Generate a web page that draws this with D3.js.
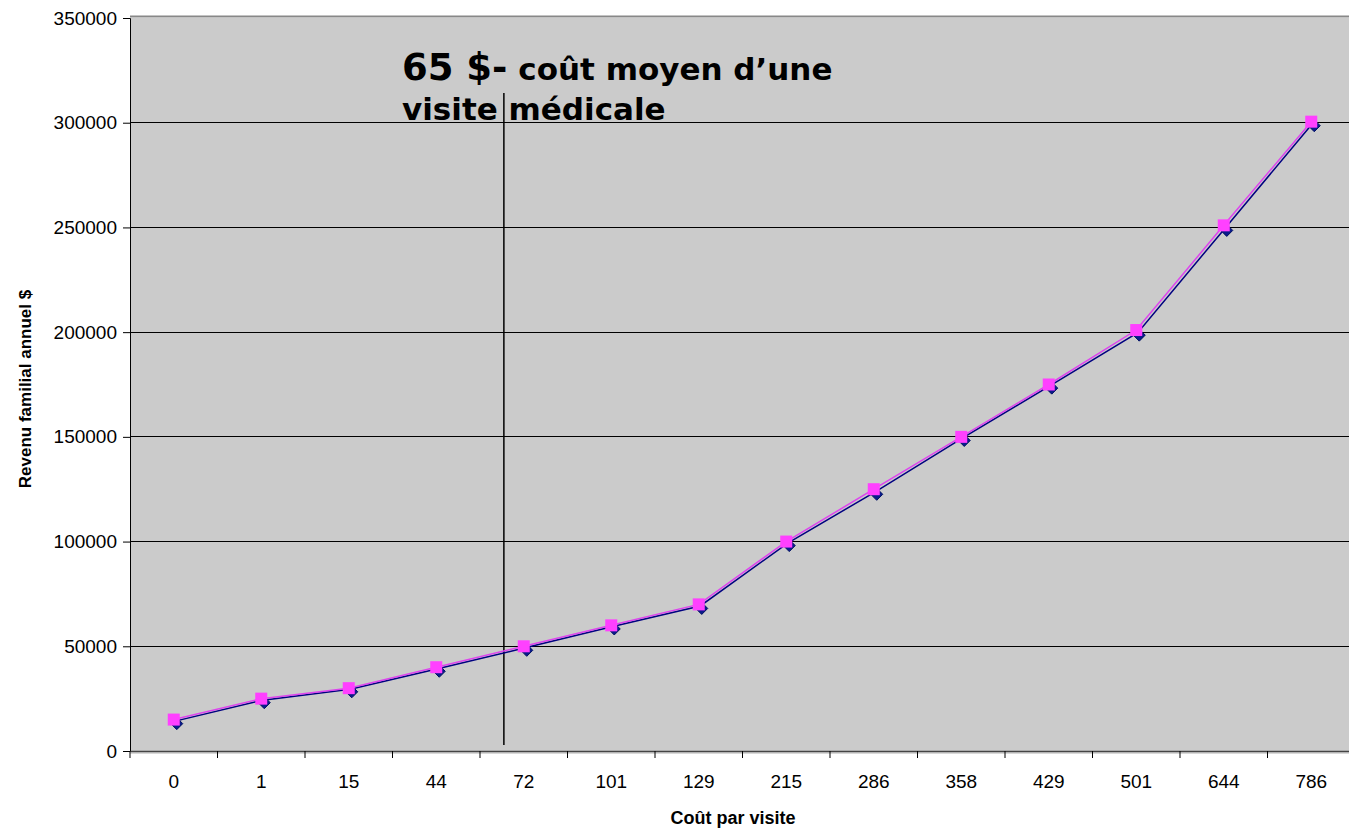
<!DOCTYPE html>
<html><head><meta charset="utf-8">
<script src="https://cdn.jsdelivr.net/npm/d3@7"></script>
<style>html,body{margin:0;padding:0;background:#fff;overflow:hidden}</style>
</head><body>
<svg id="c" width="1349" height="830"></svg>
<script>
const categories = ["0","1","15","44","72","101","129","215","286","358","429","501","644","786"];
const seriesNavy = [14500,24500,29700,39500,49500,59700,69500,99500,124000,149700,174700,200000,250000,300000];
const seriesPink = [15000,25000,30000,40000,50000,60000,70000,100000,125000,150000,175000,201000,251000,300500];
const yTicks = [0,50000,100000,150000,200000,250000,300000,350000];
const avgCost = 65;
const noteBig = "65 $-";
const noteRest = " coût moyen d’une";
const noteLine2 = "visite médicale";
const xTitle = "Coût par visite";
const yTitle = "Revenu familial annuel $";

const svg = d3.select("#c");
const L = 130, R = 1355, T = 18, B = 751;
const x = d3.scaleBand().domain(categories).range([L, R]);
const y = d3.scaleLinear().domain([0, 350000]).range([B, T]);
const cx = d => x(d) + x.bandwidth()/2;

// plot background
svg.append("rect").attr("x", L).attr("y", T).attr("width", R - L).attr("height", B - T).attr("fill", "#cbcbcb");
svg.append("line").attr("x1", L).attr("x2", R).attr("y1", T - 1.5).attr("y2", T - 1.5).attr("stroke", "#888").attr("stroke-width", 2);
svg.append("rect").attr("x", L).attr("y", B).attr("width", R - L).attr("height", 3).attr("fill", "#d8d8d8");

// gridlines
svg.append("g").selectAll("line").data(yTicks.filter(v => v > 0 && v < 350000)).join("line")
  .attr("x1", L).attr("x2", R).attr("y1", d => y(d)).attr("y2", d => y(d))
  .attr("stroke", "#000").attr("stroke-width", 1).attr("shape-rendering", "crispEdges");

// y axis
const yAxis = svg.append("g").attr("transform", `translate(${L},0)`)
  .call(d3.axisLeft(y).tickValues(yTicks).tickSize(7).tickPadding(6).tickFormat(d3.format("d")));
yAxis.select(".domain").attr("stroke", "#000");
yAxis.selectAll(".tick line").attr("stroke", "#000");
yAxis.selectAll("text").attr("font-family", "Liberation Sans, Arial, sans-serif").attr("font-size", 19).attr("fill", "#000");

// x axis
const xAxis = svg.append("g").attr("transform", `translate(0,${B})`)
  .call(d3.axisBottom(x).tickSize(0).tickPadding(24));
xAxis.select(".domain").attr("stroke", "#444").attr("stroke-width", 1.5);
xAxis.selectAll("text").attr("font-family", "Liberation Sans, Arial, sans-serif").attr("font-size", 19).attr("fill", "#000");
svg.append("g").selectAll("line").data(categories).join("line")
  .attr("x1", d => x(d)).attr("x2", d => x(d)).attr("y1", B).attr("y2", B + 7)
  .attr("stroke", "#000").attr("stroke-width", 1);

// avg cost vertical line
const i44 = categories.indexOf("44"), i72 = categories.indexOf("72");
const vx = cx(categories[i44]) + (avgCost - 44) / (72 - 44) * (cx(categories[i72]) - cx(categories[i44])) + 2;
svg.append("line").attr("x1", vx).attr("x2", vx).attr("y1", 93).attr("y2", 745).attr("stroke", "#000").attr("stroke-width", 1.5);

// note text
const note = svg.append("text").attr("x", 402).attr("y", 80)
  .attr("font-family", "DejaVu Sans, Verdana, sans-serif").attr("font-weight", "bold").attr("fill", "#000");
note.append("tspan").attr("font-size", 37).text(noteBig);
note.append("tspan").attr("font-size", 31).text(noteRest);
svg.append("text").attr("x", 402).attr("y", 120)
  .attr("font-family", "DejaVu Sans, Verdana, sans-serif").attr("font-weight", "bold").attr("font-size", 31).attr("fill", "#000")
  .text(noteLine2);

// series
const line = d3.line().x((d, i) => cx(categories[i])).y(d => y(d));
svg.append("path").datum(seriesNavy).attr("d", line).attr("fill", "none").attr("stroke", "#000080").attr("stroke-width", 1.5)
  .attr("transform", "translate(1.5,0.5)");
const dg = svg.append("g");
seriesNavy.forEach((v, i) => {
  const px = cx(categories[i]) + 3, py = y(v) + 3;
  dg.append("path").attr("d", `M${px},${py-6}L${px+6},${py}L${px},${py+6}L${px-6},${py}Z`)
    .attr("fill", "#0a1a8c").attr("stroke", "#001060").attr("stroke-width", 1);
});
svg.append("path").datum(seriesPink).attr("d", line).attr("fill", "none").attr("stroke", "#dd44ee").attr("stroke-width", 1.5);
svg.append("g").selectAll("rect").data(seriesPink).join("rect")
  .attr("x", (d, i) => cx(categories[i]) - 6).attr("y", d => y(d) - 6).attr("width", 12).attr("height", 12)
  .attr("fill", "#ff40ff");

// axis titles
svg.append("text").attr("x", 733).attr("y", 824).attr("text-anchor", "middle")
  .attr("font-family", "Liberation Sans, Arial, sans-serif").attr("font-weight", "bold").attr("font-size", 18).text(xTitle);
svg.append("text").attr("transform", "translate(31,389) rotate(-90)").attr("text-anchor", "middle")
  .attr("font-family", "Liberation Sans, Arial, sans-serif").attr("font-weight", "bold").attr("font-size", 17).text(yTitle);
</script>
</body></html>
